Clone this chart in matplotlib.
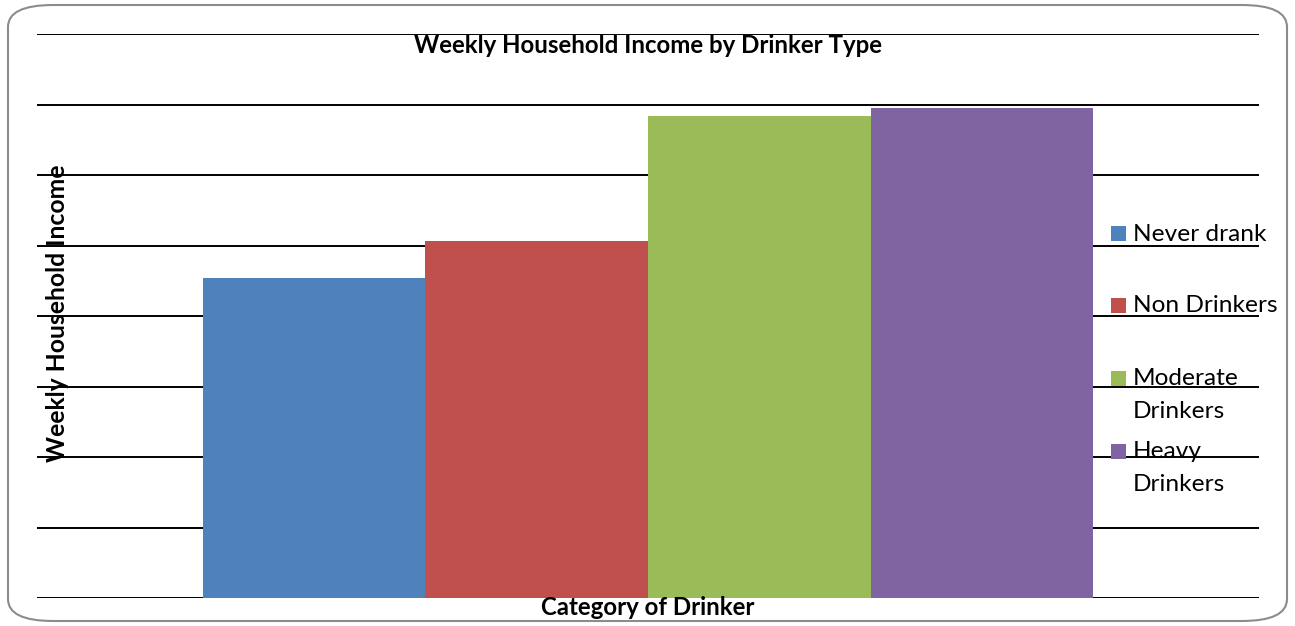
import matplotlib.pyplot as plt
import numpy as np
from matplotlib.patches import FancyBboxPatch, Rectangle

# data (gridline step = 200, no tick labels shown)
categories = ['Never drank', 'Non Drinkers', 'Moderate\nDrinkers', 'Heavy\nDrinkers']
income = [908, 1014, 1367, 1390]
colors = ['#4F81BD', '#C0504D', '#9BBB59', '#8064A2']
y_ticks = np.arange(0, 1601, 200)

plt.rcParams['font.family'] = ['Lato', 'DejaVu Sans']

fig = plt.figure(figsize=(12.95, 6.26), dpi=100)

# rounded chart border
border = FancyBboxPatch((8 / 1295, 5 / 626), 1279 / 1295, 616 / 626,
                        boxstyle='round,pad=0,rounding_size=0.035',
                        transform=fig.transFigure, facecolor='white',
                        edgecolor='#8c8c8c', linewidth=1.5, zorder=-5)
fig.patches.append(border)

ax = fig.add_axes([37 / 1295, 1 - 598 / 626, 1222 / 1295, 564 / 626])
ax.set_facecolor('none')

x = np.arange(len(categories)) - 1.5
ax.bar(x, income, width=1.0, color=colors, zorder=3)

ax.set_xlim(-2.746, 2.746)
ax.set_ylim(0, 1600)
ax.set_yticks(y_ticks)
ax.set_xticks([])
ax.tick_params(left=False, labelleft=False)
ax.grid(axis='y', color='black', linewidth=1.4, zorder=0)
for s in ax.spines.values():
    s.set_visible(False)

# titles
ax.text(0.5, 0.98, 'Weekly Household Income by Drinker Type', transform=ax.transAxes,
        ha='center', va='center', fontsize=17.3, fontweight='bold')
ax.text(0.5, -0.017, 'Category of Drinker', transform=ax.transAxes,
        ha='center', va='center', fontsize=17.3, fontweight='bold')
ax.text(0.0164, 0.504, 'Weekly Household Income', transform=ax.transAxes,
        rotation=90, ha='center', va='center', fontsize=17.8, fontweight='bold')

# legend drawn inside the plot area, gridlines run through it
box_y = [0.6454, 0.5195, 0.390, 0.2606]
for i, (lab, c) in enumerate(zip(categories, colors)):
    ax.add_patch(Rectangle((0.8789, box_y[i] - 0.0133), 0.0123, 0.0266,
                           transform=ax.transAxes, facecolor=c, edgecolor='none',
                           zorder=4, clip_on=False))
    ax.text(0.8969, box_y[i] + 0.0185, lab, transform=ax.transAxes,
            ha='left', va='top', fontsize=17.6, linespacing=1.75, zorder=5)

fig.savefig('out.png', dpi=100)
